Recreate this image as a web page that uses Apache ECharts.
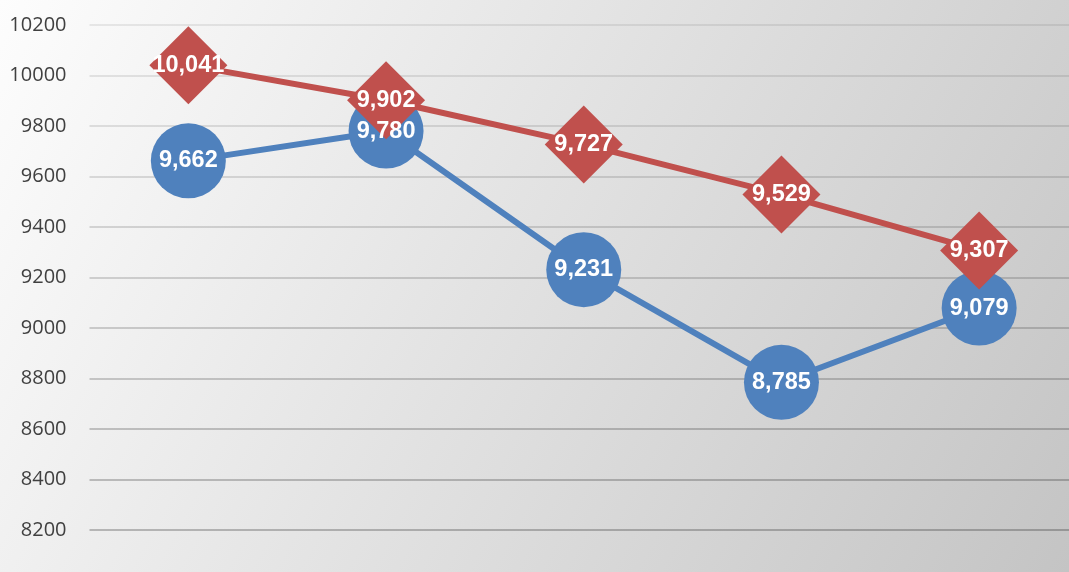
<!DOCTYPE html>
<html>
<head>
<meta charset="utf-8">
<script src="https://cdn.jsdelivr.net/npm/echarts@6/dist/echarts.min.js"></script>
<style>html,body{margin:0;padding:0;}#c{width:1069px;height:572px;}</style>
</head>
<body>
<div id="c"></div>
<script>
const categories = ['P1', 'P2', 'P3', 'P4', 'P5'];
const blueValues = [9662, 9780, 9231, 8785, 9079];
const redValues = [10041, 9902, 9727, 9529, 9307];
const yMin = 8000, yMax = 10200, yStep = 200;

const gridColors = [];
for (let i = 0; i <= (yMax - yMin) / yStep; i++) {
  const a = 0.25 - i * 0.016;
  gridColors.push('rgba(0,0,0,' + a.toFixed(3) + ')');
}

const chart = echarts.init(document.getElementById('c'), null, {renderer: 'canvas'});
const fmt = p => p.value.toLocaleString('en-US');
const labelStyle = {show: true, position: 'inside', color: '#fff', fontWeight: 'bold', fontSize: 23.5, fontFamily: 'Liberation Sans', formatter: fmt};
chart.setOption({
  animation: false,
  backgroundColor: {
    type: 'linear', x: 0, y: 0, x2: 1, y2: 1,
    colorStops: [{offset: 0, color: '#fdfdfd'}, {offset: 1, color: '#c4c4c4'}]
  },
  grid: {left: 89.5, right: -9, top: 25, bottom: -8.5, containLabel: false, outerBoundsMode: 'none'},
  xAxis: {
    type: 'category', data: categories, boundaryGap: true,
    axisLine: {show: false}, axisTick: {show: false}, axisLabel: {show: false}, splitLine: {show: false}
  },
  yAxis: {
    type: 'value', min: yMin, max: yMax, interval: yStep,
    axisLine: {show: false}, axisTick: {show: false},
    axisLabel: {color: '#404040', fontSize: 20, fontFamily: 'Open Sans', margin: 23, showMinLabel: true, hideOverlap: false, formatter: v => String(v)},
    splitLine: {lineStyle: {color: gridColors, width: 2}}
  },
  series: [
    {
      type: 'line', data: blueValues, symbol: 'circle', symbolSize: 75,
      itemStyle: {color: '#4F81BD'}, lineStyle: {color: '#4F81BD', width: 6},
      label: {show: false}, z: 2
    },
    {
      type: 'line', data: redValues, symbol: 'diamond', symbolSize: 78,
      itemStyle: {color: '#C0504D'}, lineStyle: {color: '#C0504D', width: 6},
      label: {show: false}, z: 3
    },
    {
      type: 'line', data: blueValues, symbol: 'circle', symbolSize: 1, silent: true,
      itemStyle: {color: 'transparent'}, lineStyle: {width: 0, opacity: 0},
      label: labelStyle, z: 4
    },
    {
      type: 'line', data: redValues, symbol: 'circle', symbolSize: 1, silent: true,
      itemStyle: {color: 'transparent'}, lineStyle: {width: 0, opacity: 0},
      label: labelStyle, z: 4
    }
  ]
});
</script>
</body>
</html>
